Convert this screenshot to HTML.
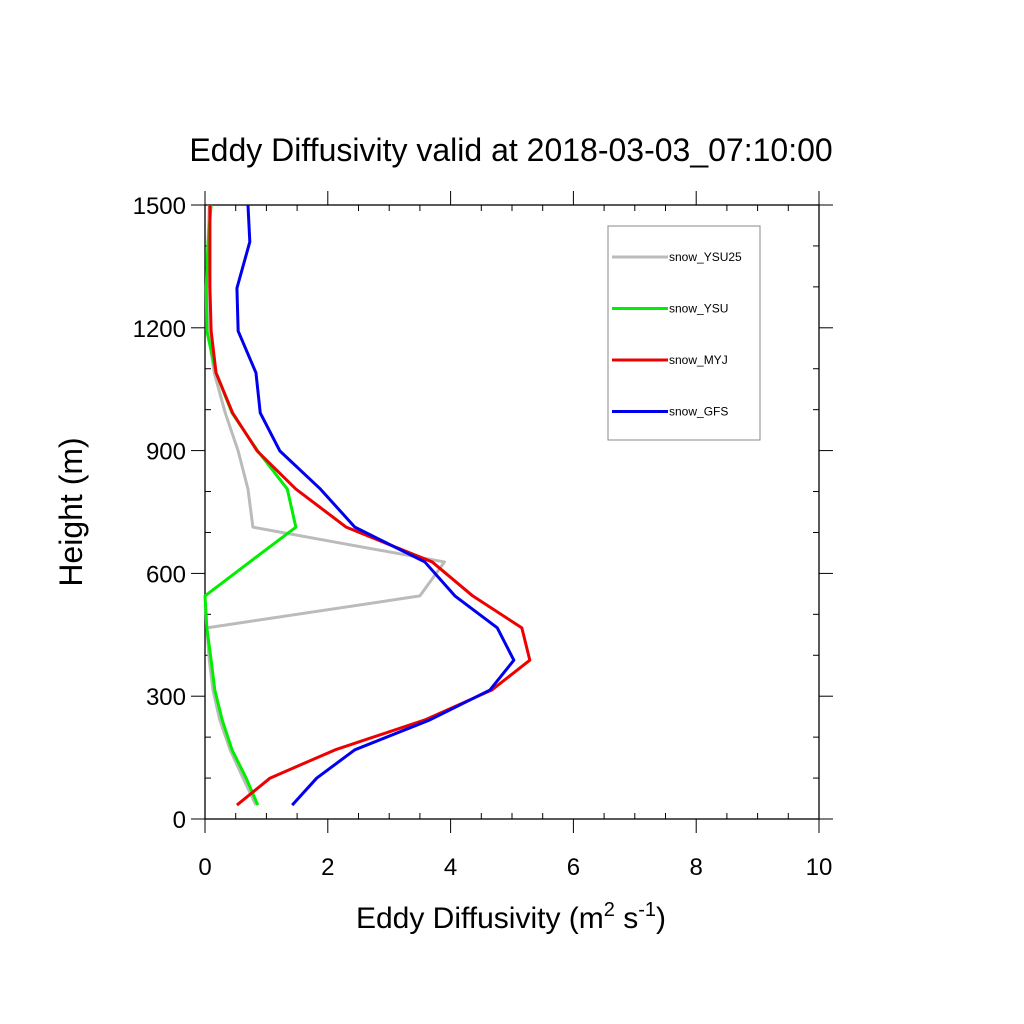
<!DOCTYPE html>
<html><head><meta charset="utf-8"><style>body{margin:0;background:#fff}svg{display:block}text{font-family:"Liberation Sans",sans-serif;fill:#000}</style></head>
<body>
<svg id="c" width="1024" height="1024">
<text x="511" y="161" font-size="32" text-anchor="middle">Eddy Diffusivity valid at 2018-03-03_07:10:00</text>
<text x="511" y="928" font-size="30" text-anchor="middle">Eddy Diffusivity (m<tspan font-size="20" dy="-12">2</tspan><tspan dy="12"> s</tspan><tspan font-size="20" dy="-12">-1</tspan><tspan dy="12">)</tspan></text>
<text transform="translate(82,512) rotate(-90)" font-size="32" text-anchor="middle">Height (m)</text>
<g id="axes"></g><g id="series"></g>
<rect x="608" y="226" width="152" height="214" fill="#fff" stroke="#888"/>
<g id="legend"></g>
</svg>
<script>
const heights=[34,100,169,242,315,388,467,545,628,713,806,899,992,1090,1192,1297,1410,1500];
const seriesNames=["snow_YSU25","snow_YSU","snow_MYJ","snow_GFS"];
const ysu25=[0.83,0.62,0.41,0.24,0.13,0.07,0.03,3.5,3.9,0.78,0.70,0.54,0.33,0.15,0.05,0.03,0.05,0.07];
const ysu=[0.86,0.67,0.44,0.28,0.16,0.1,0.03,0,0.73,1.48,1.34,0.86,0.44,0.18,0.03,0.02,0.05,0.1];
const myj=[0.52,1.06,2.12,3.58,4.67,5.29,5.16,4.36,3.7,2.3,1.48,0.85,0.45,0.18,0.1,0.08,0.08,0.08];
const gfs=[1.42,1.82,2.44,3.66,4.64,5.03,4.76,4.07,3.58,2.44,1.88,1.22,0.9,0.83,0.54,0.52,0.73,0.7];
const xTicks=[0,2,4,6,8,10];
const yTicks=[0,300,600,900,1200,1500];
const colors=["#bbbbbb","#00ee00","#ee0000","#0000ee"];
const NS="http://www.w3.org/2000/svg";
const X0=205,X1=819,Y0=819,Y1=205;
const sx=v=>X0+(v/10)*(X1-X0), sy=v=>Y0-(v/1500)*(Y0-Y1);
function el(t,a,p){const e=document.createElementNS(NS,t);for(const k in a)e.setAttribute(k,a[k]);p.appendChild(e);return e;}
const ax=document.getElementById('axes');
const frame=el('rect',{x:X0,y:Y1,width:X1-X0,height:Y0-Y1,fill:'none',stroke:'#000','stroke-width':1.3},ax);


for(let v=0;v<=10;v+=0.5){const x=sx(v);const maj=v%2===0;
 el('line',{x1:x,x2:x,y1:Y0,y2:maj?Y0+14:Y0-6,stroke:'#000'},ax);
 el('line',{x1:x,x2:x,y1:Y1,y2:maj?Y1-14:Y1+6,stroke:'#000'},ax);}
for(let v=0;v<=1500;v+=100){const y=sy(v);const maj=v%300===0;
 el('line',{y1:y,y2:y,x1:X0,x2:maj?X0-14:X0+6,stroke:'#000'},ax);
 el('line',{y1:y,y2:y,x1:X1,x2:maj?X1+14:X1-6,stroke:'#000'},ax);}
xTicks.forEach(v=>{const t=el('text',{x:sx(v),y:875,'font-size':24,'text-anchor':'middle'},ax);t.textContent=v;

});
yTicks.forEach(v=>{const t=el('text',{x:X0-19,y:sy(v)+9,'font-size':24,'text-anchor':'end'},ax);t.textContent=v;

});
const sg=document.getElementById('series');
[ysu25,ysu,myj,gfs].forEach((d,i)=>{
 const p=el('polyline',{points:d.map((v,j)=>sx(v)+','+sy(heights[j])).join(' '),fill:'none',stroke:colors[i],'stroke-width':3,'stroke-linejoin':'round'},sg);
 
 
});
const lg=document.getElementById('legend');
seriesNames.forEach((n,i)=>{const y=257+i*51.5;
 const l=el('line',{x1:612,x2:668,y1:y,y2:y,stroke:colors[i],'stroke-width':3},lg);
 
 
 const t=el('text',{x:669,y:y+4,'font-size':12},lg);t.textContent=n;
 
 });
</script>
</body></html>
